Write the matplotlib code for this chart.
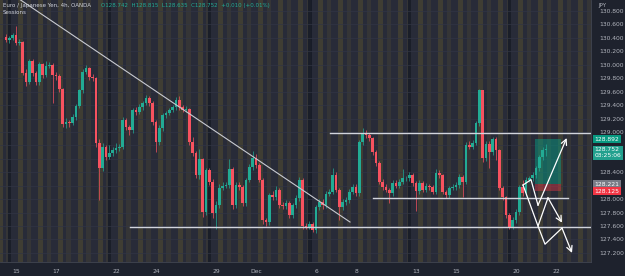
import numpy as np
import matplotlib.pyplot as plt

# EUR/JPY 4h candles (OANDA)
first_open = 130.41
close = [130.37, 130.40, 130.44, 130.32, 130.34, 129.88, 129.74, 130.06, 129.88, 129.74,
         130.01, 129.85, 129.98, 130.00, 129.85, 129.83, 129.64, 129.12, 129.15, 129.13,
         129.22, 129.39, 129.62, 129.89, 129.95, 129.82, 129.80, 128.84, 128.46, 128.78,
         128.63, 128.69, 128.73, 128.76, 128.78, 129.18, 129.07, 129.03, 129.33, 129.30,
         129.37, 129.43, 129.51, 129.43, 129.15, 128.85, 129.06, 129.25, 129.28, 129.33,
         129.37, 129.48, 129.37, 129.33, 129.34, 128.85, 128.69, 128.36, 128.60, 127.81,
         128.43, 128.26, 127.79, 127.91, 128.17, 128.20, 128.21, 128.45, 127.91, 128.21,
         128.18, 127.94, 128.29, 128.48, 128.61, 128.51, 128.29, 127.69, 127.66, 128.06,
         128.03, 128.14, 127.91, 127.90, 127.94, 127.76, 127.91, 128.02, 128.29, 127.60,
         127.59, 127.63, 127.54, 127.88, 127.96, 127.91, 128.08, 128.11, 128.36, 128.14,
         127.88, 127.96, 127.99, 128.11, 128.18, 128.09, 128.85, 128.98, 128.95, 128.91,
         128.70, 128.54, 128.26, 128.18, 128.14, 128.09, 128.24, 128.20, 128.26, 128.31,
         128.31, 128.36, 128.24, 128.12, 128.24, 128.14, 128.20, 128.18, 128.11, 128.39,
         128.36, 128.11, 128.06, 128.17, 128.18, 128.21, 128.33, 128.26, 128.81, 128.78,
         128.84, 129.13, 129.62, 128.61, 128.82, 128.70, 128.90, 128.73, 128.17, 128.03,
         127.76, 127.59, 127.69, 127.81, 128.18, 128.09, 128.29, 128.31, 128.36, 128.46,
         128.63, 128.73, 128.75]
high = [130.46, 130.43, 130.47, 130.58, 130.38, 130.36, 129.93, 130.09, 130.08, 129.90,
        130.04, 130.02, 130.05, 130.04, 130.02, 129.89, 129.86, 129.66, 129.21, 129.18,
        129.27, 129.42, 129.64, 129.93, 129.99, 129.96, 129.86, 129.82, 128.90, 128.84,
        128.80, 128.80, 128.77, 128.83, 128.82, 129.22, 129.21, 129.10, 129.36, 129.37,
        129.41, 129.46, 129.55, 129.53, 129.46, 129.18, 129.10, 129.28, 129.31, 129.36,
        129.40, 129.52, 129.53, 129.40, 129.38, 129.36, 128.93, 128.72, 128.75, 128.62,
        128.47, 128.46, 128.30, 127.97, 128.22, 128.25, 128.26, 128.60, 128.48, 128.26,
        128.25, 128.21, 128.32, 128.52, 128.72, 128.67, 128.54, 128.31, 127.72, 128.09,
        128.12, 128.19, 128.17, 127.96, 127.99, 127.97, 127.95, 128.06, 128.33, 128.31,
        127.64, 127.67, 127.66, 127.92, 128.00, 128.00, 128.12, 128.15, 128.46, 128.40,
        128.17, 128.00, 128.03, 128.15, 128.22, 128.22, 128.88, 129.06, 129.03, 128.99,
        128.93, 128.73, 128.57, 128.30, 128.22, 128.17, 128.28, 128.29, 128.30, 128.45,
        128.35, 128.40, 128.39, 128.27, 128.28, 128.27, 128.24, 128.23, 128.21, 128.45,
        128.43, 128.38, 128.14, 128.20, 128.22, 128.25, 128.37, 128.36, 128.85, 128.86,
        128.88, 129.16, 129.64, 129.63, 128.86, 128.86, 128.93, 128.92, 128.75, 128.20,
        128.05, 127.79, 127.73, 127.85, 128.21, 128.29, 128.33, 128.35, 128.40, 128.50,
        128.66, 128.78, 128.82]
low = [130.34, 130.33, 130.37, 130.29, 130.30, 129.85, 129.68, 129.71, 129.84, 129.70,
       129.70, 129.80, 129.82, 129.95, 129.43, 129.78, 129.60, 129.07, 129.06, 129.08,
       129.10, 129.18, 129.35, 129.58, 129.86, 129.78, 129.76, 128.78, 127.99, 128.42,
       128.58, 128.60, 128.64, 128.68, 128.72, 128.74, 129.03, 128.95, 128.99, 129.26,
       129.27, 129.33, 129.40, 129.39, 129.10, 128.70, 128.81, 129.02, 129.21, 129.25,
       129.29, 129.33, 129.33, 129.30, 129.29, 128.80, 128.64, 128.32, 128.30, 127.74,
       127.76, 128.21, 127.72, 127.55, 127.87, 128.13, 128.16, 128.17, 127.86, 127.87,
       128.13, 127.90, 127.90, 128.25, 128.44, 128.47, 128.25, 127.63, 127.60, 127.62,
       127.99, 127.99, 127.87, 127.85, 127.86, 127.72, 127.72, 127.87, 127.98, 127.56,
       127.55, 127.55, 127.51, 127.50, 127.84, 127.86, 127.87, 128.04, 128.07, 128.10,
       127.69, 127.84, 127.92, 127.95, 128.07, 128.05, 128.05, 128.80, 128.91, 128.87,
       128.66, 128.50, 128.22, 128.14, 128.10, 127.94, 128.05, 128.16, 128.16, 128.22,
       128.27, 128.27, 128.20, 127.83, 128.08, 128.10, 128.10, 128.14, 128.07, 128.07,
       128.32, 128.07, 128.02, 128.02, 128.13, 128.14, 128.17, 128.03, 128.22, 128.74,
       128.74, 128.80, 129.09, 128.56, 128.57, 128.46, 128.66, 128.58, 128.13, 127.99,
       127.72, 127.55, 127.56, 127.65, 127.77, 128.05, 128.05, 128.25, 128.27, 128.32,
       128.42, 128.59, 128.64]

day_labels = ['15', '17', '22', '24', '29', 'Dec', '6', '8', '13', '15', '20', '22']
day_index = [0, 2, 5, 7, 10, 12, 15, 17, 20, 22, 25, 27]   # trading days after Nov 15
price_ticks = [127.2, 127.4, 127.6, 127.8, 128.0, 128.4,
               129.0, 129.2, 129.4, 129.6, 129.8, 130.0, 130.2, 130.4, 130.6, 130.8]

levels = [128.98, 128.02, 127.59]
level_start = [97.2, 110.1, 37.2]
level_end = [176, 168.6, 176]
trend_x = [3.6, 103.2]
trend_y = [130.99, 127.66]

entry, target, stop = 128.221, 128.892, 128.125
last_price = 128.752

arrow_up = ([155.1, 157.5, 159.6, 168.2], [128.21, 128.29, 127.91, 128.91])
arrow_dn1 = ([155.1, 159.6, 162.6, 166.8], [128.21, 127.60, 128.02, 127.65])
arrow_dn2 = ([159.6, 161.7, 166.8, 169.8], [127.60, 127.33, 127.57, 127.20])

UP = '#22ab94'
DN = '#f7525f'
BG = '#1e222d'
TXT = '#b2b5be'

opens = [first_open] + close[:-1]
n = len(close)
xs = np.arange(n)

fig = plt.figure(figsize=(6.25, 2.76), dpi=100, facecolor=BG)
ax = fig.add_axes([0, 14 / 276, 591 / 625, 262 / 276])
ax.set_facecolor('#282b38')

# sessions background
for d in range(-1, 29):
    s = 3.15 + 6 * d
    ax.axvspan(s + 0.5, s + 1.9, color='#504a30', alpha=0.6, lw=0, zorder=0)
    ax.axvspan(s + 3.0, s + 4.3, color='#3e3c36', alpha=0.6, lw=0, zorder=0)
for d in [0, 5, 10, 15, 20, 25]:
    s = 3.15 + 6 * d
    ax.axvspan(s - 2.6, s - 1.5, color='#161a26', alpha=0.85, lw=0, zorder=0)

for p in np.arange(127.2, 130.9, 0.2):
    ax.axhline(p, color='#313544', lw=0.5, zorder=0.5)

# candles
for i in range(n):
    col = UP if close[i] >= opens[i] else DN
    ax.vlines(xs[i], low[i], high[i], color=col, lw=0.5, zorder=2)
    lo = min(opens[i], close[i])
    h = max(abs(close[i] - opens[i]), 0.012)
    ax.bar(xs[i], h, bottom=lo, width=0.8, color=col, lw=0, zorder=3)

# drawings
ax.plot(trend_x, trend_y, color='#c8cad0', lw=0.8, zorder=4)
for lv, a, b in zip(levels, level_start, level_end):
    ax.plot([a, b], [lv, lv], color='#d1d4dc', lw=1.0, zorder=4)

ax.fill_between([158.7, 166.6], entry, target, color='#089981', alpha=0.5, lw=0, zorder=1.5)
ax.fill_between([158.7, 166.6], stop, entry, color='#f23645', alpha=0.4, lw=0, zorder=1.5)

for px, py in [arrow_up, arrow_dn1, arrow_dn2]:
    ax.plot(px[:-1], py[:-1], color='white', lw=0.9, zorder=5)
    ax.annotate('', xy=(px[-1], py[-1]), xytext=(px[-2], py[-2]),
                arrowprops=dict(arrowstyle='->', color='white', lw=0.9,
                                shrinkA=0, shrinkB=0), zorder=5)

ax.set_xlim(-1.8, 175.5)
ax.set_ylim(127.065, 130.964)

ax.set_xticks([3.15 + 6 * d for d in day_index])
ax.set_xticklabels(day_labels)
ax.tick_params(axis='x', length=0, pad=5, labelsize=4.3, colors=TXT)
ax.yaxis.tick_right()
ax.set_yticks(price_ticks)
ax.set_yticklabels(['%.3f' % p for p in price_ticks])
ax.tick_params(axis='y', length=0, pad=6, labelsize=4.3, colors=TXT)
for s in ax.spines.values():
    s.set_visible(False)
for side in ['right', 'bottom']:
    ax.spines[side].set_visible(True)
    ax.spines[side].set_color('#434651')
    ax.spines[side].set_linewidth(0.6)

# price tags on the axis
tr = ax.get_yaxis_transform()
def tag(y, s, fc, tc='white'):
    ax.text(1.006, y, s, transform=tr, fontsize=4.3, color=tc, va='center', ha='left',
            bbox=dict(boxstyle='square,pad=0.25', fc=fc, ec='none'), clip_on=False, zorder=10)
tag(target, '%.3f' % target, '#089981')
tag(last_price - 0.06, '%.3f\n03:25:06' % last_price, '#22a08e')
tag(entry, '%.3f' % entry, '#787b86')
tag(stop - 0.01, '%.3f' % stop, '#f23645')

fig.text(598 / 625, 1 - 5 / 276, 'JPY', fontsize=4.0, color=TXT, va='center')

fig.text(3 / 625, 1 - 5 / 276, 'Euro / Japanese Yen, 4h, OANDA', fontsize=4.0, color='#d1d4dc', va='center')
fig.text(101 / 625, 1 - 5 / 276, 'O128.742  H128.815  L128.635  C128.752  +0.010 (+0.01%)',
         fontsize=4.0, color=UP, va='center')
fig.text(3 / 625, 1 - 13 / 276, 'Sessions', fontsize=4.0, color='#d1d4dc', va='center')

fig.savefig('out.png', dpi=100, facecolor=BG)
